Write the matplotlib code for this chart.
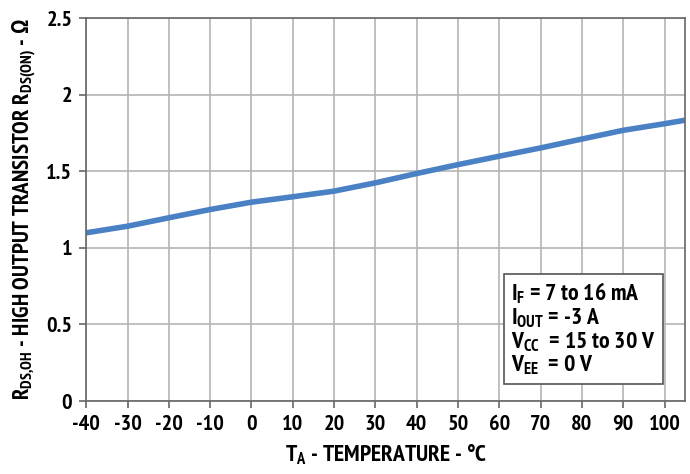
import matplotlib
matplotlib.use("Agg")
import matplotlib.pyplot as plt

# datos
temperatura = [-40, -30, -20, -10, 0, 10, 20, 30, 40, 50, 60, 70, 80, 90, 100, 105]
rds_on = [1.098, 1.141, 1.196, 1.25, 1.298, 1.333, 1.37, 1.424, 1.485, 1.543,
          1.598, 1.652, 1.71, 1.767, 1.81, 1.833]

x_ticks = list(range(-40, 101, 10))
y_ticks = [0, 0.5, 1, 1.5, 2, 2.5]
y_tick_labels = ["0", "0.5", "1", "1.5", "2", "2.5"]

plt.rcParams["font.family"] = ["PT Sans Narrow", "DejaVu Sans"]
plt.rcParams["font.weight"] = "bold"
plt.rcParams["axes.unicode_minus"] = False
plt.rcParams["mathtext.default"] = "regular"

fig = plt.figure(figsize=(6.9, 4.74), dpi=100)
ax = fig.add_axes([0.125, 0.154, 0.868, 0.808])

ax.plot(temperatura, rds_on, color="#4a80c4", lw=4.0, solid_capstyle="butt")

ax.set_xlim(-40, 105)
ax.set_ylim(0, 2.5)
ax.set_xticks(x_ticks)
ax.set_yticks(y_ticks)
ax.set_yticklabels(y_tick_labels)
ax.grid(True, color="#b4b4b4", lw=1.2)
ax.set_axisbelow(True)
for s in ax.spines.values():
    s.set_color("#666666")
    s.set_linewidth(1.2)
ax.tick_params(direction="out", length=5, width=1.2, color="#666666",
               labelsize=16, pad=5)
for lab in ax.get_xticklabels() + ax.get_yticklabels():
    lab.set_fontweight("bold")

ax.set_xlabel(r"T$_\mathregular{A}$ - TEMPERATURE - °C", fontsize=17, fontweight="bold", labelpad=6)
ax.set_ylabel(r"R$_\mathregular{DS{,}OH}$ - HIGH OUTPUT TRANSISTOR R$_\mathregular{DS(ON)}$ - Ω",
              fontsize=16.5, fontweight="bold", labelpad=6)

texto = ("I$_\\mathregular{F}$ = 7 to 16 mA\n"
         "I$_\\mathregular{OUT}$ = -3 A\n"
         "V$_\\mathregular{CC}$  = 15 to 30 V\n"
         "V$_\\mathregular{EE}$  = 0 V")
ax.text(0.71, 0.062, texto, transform=ax.transAxes, fontsize=17, fontweight="bold",
        va="bottom", ha="left", linespacing=1.0,
        bbox=dict(boxstyle="square,pad=0.3", fc="white", ec="#555555", lw=1.2))

fig.savefig("out.png", dpi=100)
